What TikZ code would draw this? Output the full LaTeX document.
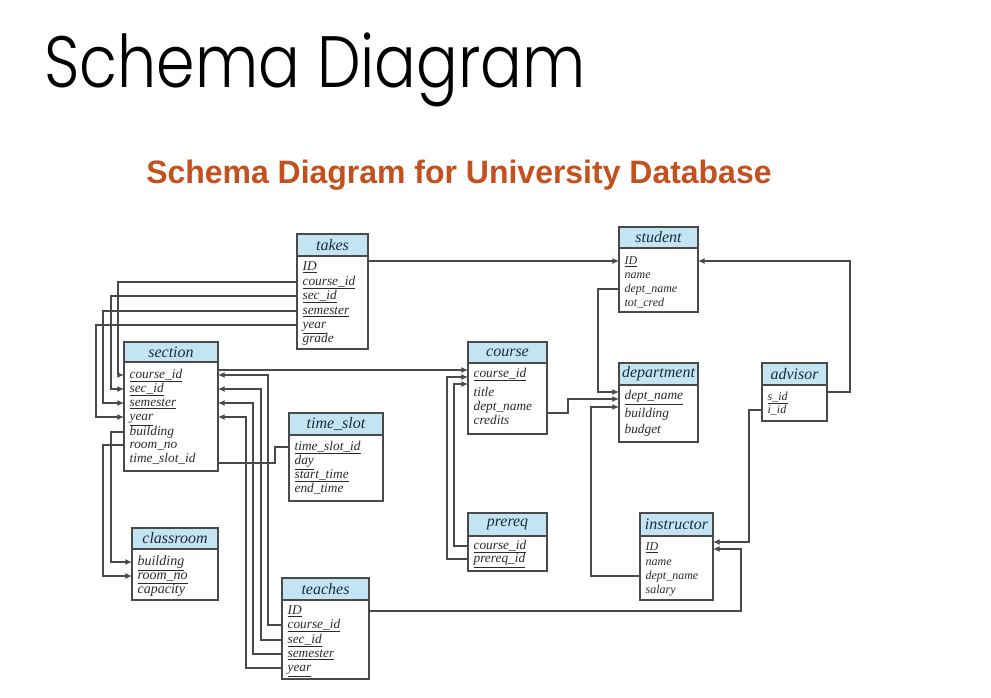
\documentclass[tikz,border=0pt]{standalone}
\usepackage{fontspec}
\newfontfamily\titlefont{Poppins Light}
\newfontfamily\subtitlefont{Liberation Sans}
\newfontfamily\tablefont{Liberation Serif}
\usetikzlibrary{positioning, arrows.meta}
\definecolor{hdrblue}{HTML}{C3E4F2}
\definecolor{linegray}{HTML}{4A4A4A}
\definecolor{headtext}{HTML}{1E2C3A}
\definecolor{fieldtext}{HTML}{2A2A2A}
\definecolor{suborange}{HTML}{C4501E}

\begin{document}
\begin{tikzpicture}[x=0.75pt,y=-0.75pt,
	tblhead/.style 2 args={draw=linegray,fill=hdrblue,line width=0.9pt,outer sep=0pt,inner sep=0pt,anchor=north west,minimum width=#1*0.75pt,minimum height=#2*0.75pt,font=\tablefont\itshape\fontsize{12}{13}\selectfont,text=headtext},
	tblbody/.style 2 args={draw=linegray,fill=white,line width=0.9pt,outer sep=0pt,inner sep=0pt,minimum width=#1*0.75pt,minimum height=#2*0.75pt},
	field/.style={anchor=west,inner xsep=4pt,inner ysep=0pt,text=fieldtext,text height=1.5ex,text depth=0.4ex,font=\tablefont\itshape\fontsize{10}{11}\selectfont},
	smallfield/.style={field,font=\tablefont\itshape\fontsize{9}{10}\selectfont},
	bigfield/.style={field,font=\tablefont\itshape\fontsize{10.5}{11}\selectfont},
	fk/.style={draw=linegray,line width=0.9pt,-{Latex[length=5pt,width=4.5pt]}},
	link/.style={draw=linegray,line width=0.9pt}]
	\fill[white] (0,0) rectangle (991,697);
	\useasboundingbox (0,0) rectangle (991,697);

	\node (title) at (44,87) [anchor=base west,inner sep=0pt] {\resizebox{406pt}{41pt}{\titlefont Schema Diagram}};
	\node (subtitle) at (146,183) [anchor=base west,inner sep=0pt,text=suborange] {\resizebox{469pt}{17.6pt}{\subtitlefont\bfseries Schema Diagram for University Database}};

	% takes
	\node (takes) at (297,234) [tblhead={71}{22}] {takes};
	\node (takes-body) [tblbody={71}{93},below=0pt of takes] {};
	\node (takes-ID) at (297,267) [field] {\underline{ID}};
	\node (takes-courseid) at (297,282) [field] {\underline{course\_id}};
	\node (takes-secid) at (297,296) [field] {\underline{sec\_id}};
	\node (takes-semester) at (297,311) [field] {\underline{semester}};
	\node (takes-year) at (297,325) [field] {\underline{year}};
	\node (takes-grade) at (297,339) [field] {grade};

	% section
	\node (section) at (124,342) [tblhead={94}{20}] {section};
	\node (section-body) [tblbody={94}{109},below=0pt of section] {};
	\node (section-courseid) at (124,375) [field] {\underline{course\_id}};
	\node (section-secid) at (124,389) [field] {\underline{sec\_id}};
	\node (section-semester) at (124,403) [field] {\underline{semester}};
	\node (section-year) at (124,417) [field] {\underline{year}};
	\node (section-building) at (124,432) [field] {building};
	\node (section-roomno) at (124,445) [field] {room\_no};
	\node (section-timeslotid) at (124,459) [field] {time\_slot\_id};

	% time_slot
	\node (timeslot) at (289,413) [tblhead={94}{22}] {time\_slot};
	\node (timeslot-body) [tblbody={94}{66},below=0pt of timeslot] {};
	\node (timeslot-timeslotid) at (289,447) [field] {\underline{time\_slot\_id}};
	\node (timeslot-day) at (289,461) [field] {\underline{day}};
	\node (timeslot-starttime) at (289,475) [field] {\underline{start\_time}};
	\node (timeslot-endtime) at (289,489) [field] {end\_time};

	% classroom
	\node (classroom) at (132,528) [tblhead={86}{21}] {classroom};
	\node (classroom-body) [tblbody={86}{51},below=0pt of classroom] {};
	\node (classroom-building) at (132,562) [bigfield] {\underline{building}};
	\node (classroom-roomno) at (132,576) [bigfield] {\underline{room\_no}};
	\node (classroom-capacity) at (132,590) [bigfield] {capacity};

	% teaches
	\node (teaches) at (282,578) [tblhead={87}{22}] {teaches};
	\node (teaches-body) [tblbody={87}{79},below=0pt of teaches] {};
	\node (teaches-ID) at (282,611) [field] {\underline{ID}};
	\node (teaches-courseid) at (282,625) [field] {\underline{course\_id}};
	\node (teaches-secid) at (282,640) [field] {\underline{sec\_id}};
	\node (teaches-semester) at (282,654) [field] {\underline{semester}};
	\node (teaches-year) at (282,668) [field] {\underline{year}};

	% course
	\node (course) at (468,342) [tblhead={79}{21}] {course};
	\node (course-body) [tblbody={79}{71},below=0pt of course] {};
	\node (course-courseid) at (468,374) [field] {\underline{course\_id}};
	\node (course-title) at (468,393) [field] {title};
	\node (course-deptname) at (468,407) [field] {dept\_name};
	\node (course-credits) at (468,421) [field] {credits};

	% prereq
	\node (prereq) at (468,513) [tblhead={79}{23}] {prereq};
	\node (prereq-body) [tblbody={79}{35},below=0pt of prereq] {};
	\node (prereq-courseid) at (468,546) [field] {\underline{course\_id}};
	\node (prereq-prereqid) at (468,559) [field] {\underline{prereq\_id}};

	% student
	\node (student) at (619,227) [tblhead={79}{21}] {student};
	\node (student-body) [tblbody={79}{64},below=0pt of student] {};
	\node (student-ID) at (619,261) [smallfield] {\underline{ID}};
	\node (student-name) at (619,275) [smallfield] {name};
	\node (student-deptname) at (619,289) [smallfield] {dept\_name};
	\node (student-totcred) at (619,303) [smallfield] {tot\_cred};

	% department
	\node (department) at (619,363) [tblhead={79}{22}] {department};
	\node (department-body) [tblbody={79}{57},below=0pt of department] {};
	\node (department-deptname) at (619,396) [field] {\underline{dept\_name}};
	\node (department-building) at (619,414) [field] {building};
	\node (department-budget) at (619,430) [field] {budget};

	% advisor
	\node (advisor) at (762,363) [tblhead={65}{22}] {advisor};
	\node (advisor-body) [tblbody={65}{36},below=0pt of advisor] {};
	\node (advisor-sid) at (762,397) [smallfield] {\underline{s\_id}};
	\node (advisor-iid) at (762,410) [smallfield] {i\_id};

	% instructor
	\node (instructor) at (640,513) [tblhead={73}{23}] {instructor};
	\node (instructor-body) [tblbody={73}{64},below=0pt of instructor] {};
	\node (instructor-ID) at (640,547) [smallfield] {\underline{ID}};
	\node (instructor-name) at (640,562) [smallfield] {name};
	\node (instructor-deptname) at (640,576) [smallfield] {dept\_name};
	\node (instructor-salary) at (640,590) [smallfield] {salary};

	% arrow ends
	\coordinate (course-in1) at ([yshift=3pt]course-courseid.west);
	\coordinate (course-in2) at ([yshift=-2.25pt]course-courseid.west);
	\coordinate (course-in3) at ([yshift=-7.5pt]course-courseid.west);
	\coordinate (dept-in1) at ([yshift=3pt]department-deptname.west);
	\coordinate (dept-in2) at ([yshift=-2.25pt]department-deptname.west);
	\coordinate (dept-in3) at ([yshift=-8.25pt]department-deptname.west);
	\coordinate (instr-in1) at ([yshift=3.75pt]instructor-ID.west);
	\coordinate (instr-in2) at ([yshift=-1.5pt]instructor-ID.west);
	\coordinate (section-out) at ([yshift=-3pt]section-timeslotid.west);
	\coordinate (course-out) at ([yshift=-4.5pt]course-deptname.west);
	\coordinate (advisor-out) at ([yshift=3.75pt]advisor-sid.west);

	% takes
	\draw[fk] (student-ID.west -| takes-body.east) -- (student-ID.west);
	\draw[fk] (takes-courseid.west) -- ++(-179,0) |- (section-courseid.west);
	\draw[fk] (takes-secid.west) -- ++(-186,0) |- (section-secid.west);
	\draw[fk] (takes-semester.west) -- ++(-194,0) |- (section-semester.west);
	\draw[fk] (takes-year.west) -- ++(-201,0) |- (section-year.west);
	% section
	\draw[fk] (course-in1 -| section-body.east) -- (course-in1);
	\draw[link] (section-out -| section-body.east) -- ++(57,0) |- (timeslot-timeslotid.west);
	\draw[fk] (section-building.west) -- ++(-13,0) |- (classroom-building.west);
	\draw[fk] (section-roomno.west) -- ++(-21,0) |- (classroom-roomno.west);
	% teaches
	\draw[fk] (teaches-courseid.west) -- ++(-14,0) |- (section-courseid -| section-body.east);
	\draw[fk] (teaches-secid.west) -- ++(-21,0) |- (section-secid -| section-body.east);
	\draw[fk] (teaches-semester.west) -- ++(-29,0) |- (section-semester -| section-body.east);
	\draw[fk] (teaches-year.west) -- ++(-36,0) |- (section-year -| section-body.east);
	\draw[fk] (teaches-ID -| teaches-body.east) -- ++(372,0) |- (instr-in2 -| instructor-body.east);
	% prereq
	\draw[fk] (prereq-prereqid.west) -- ++(-21,0) |- (course-in2);
	\draw[fk] (prereq-courseid.west) -- ++(-14,0) |- (course-in3);
	% advisor
	\draw[fk] (advisor-iid.west) -- ++(-13,0) |- (instr-in1 -| instructor-body.east);
	\draw[fk] (advisor-out -| advisor-body.east) -- ++(23,0) |- (student-ID -| student-body.east);
	% department
	\draw[fk] (student-deptname.west) -- ++(-21,0) |- (dept-in1);
	\draw[fk] (course-out -| course-body.east) -- ++(21,0) |- (dept-in2);
	\draw[fk] (instructor-deptname.west) -- ++(-49,0) |- (dept-in3);
\end{tikzpicture}
\end{document}
